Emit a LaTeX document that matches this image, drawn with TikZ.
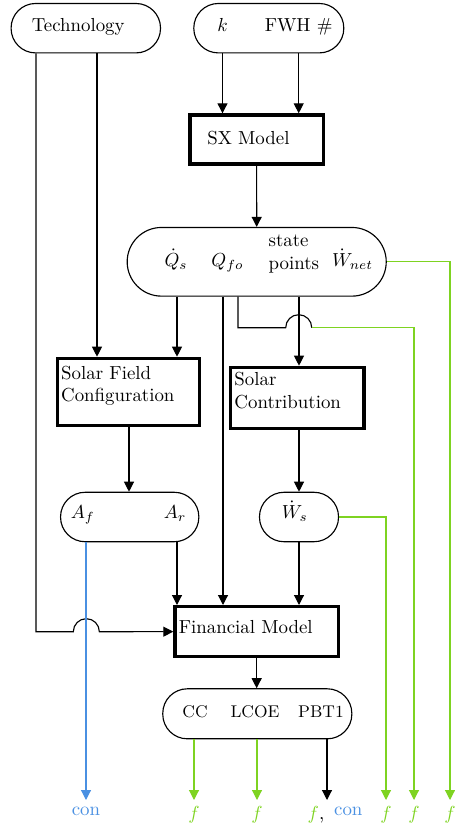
\documentclass[tikz,border=0pt]{standalone}
\usepackage{amsmath}
\usepackage{xcolor}
\usetikzlibrary{positioning, arrows.meta}
\definecolor{fgreen}{RGB}{126,211,33}
\definecolor{conblue}{RGB}{74,144,226}

\begin{document}
\begin{tikzpicture}[x=0.53pt, y=-0.53pt, line width=0.6pt,
  pill/.style={draw, rounded corners=13pt, minimum height=26.2pt, inner sep=0pt},
  box/.style={draw, line width=1.8pt, anchor=north west, align=left, inner xsep=2pt, inner ysep=2.5pt},
  lbl/.style={anchor=base, inner sep=0pt},
  arr/.style={-{Triangle[length=5.3pt, width=5.3pt]}},
  garr/.style={arr, color=fgreen},
  barr/.style={arr, color=conblue}]
  \useasboundingbox (0,0) rectangle (454,832);

  % inputs
  \node[pill, minimum width=79.2pt] (tech) at (85.8,28.2) {};
  \node[lbl] (techtxt) at (78.2,32) {Technology};
  \node[pill, minimum width=79.5pt] (kfwh) at (268.8,28.2) {};
  \node[lbl] (k) at (222.5,32) {$k$};
  \node[lbl] (fwh) at (298.7,32) {FWH \#};

  % models and their outputs
  \node[box, inner xsep=9.15pt, text width=52.35pt, text height=13.4pt, text depth=7.57pt] (sx) at (188.3,113.3) {SX Model};
  \node[pill, minimum width=137.3pt, minimum height=36.4pt, rounded corners=18.2pt] (state) at (256.7,261.8) {};
  \node[lbl] (qs) at (176,266.7) {$\dot{Q}_s$};
  \node[lbl] (qfo) at (227.5,266.7) {$Q_{fo}$};
  \node[anchor=west, inner sep=0pt, align=left] (sp) at (268,254) {state\\points};
  \node[lbl] (wnet) at (352.5,266.7) {$\dot{W}_{net}$};

  \node[box, text width=71.2pt, text height=8.58pt, text depth=22.04pt] (sfc) at (55.7,356.7) {Solar Field\\Configuration};
  \node[box, text width=66.65pt, text height=7.2pt, text depth=20.08pt] (sc) at (229,365.7) {Solar\\Contribution};

  \node[pill, minimum width=73.3pt] (area) at (129.7,517) {};
  \node[lbl] (af) at (82.8,518.3) {$A_f$};
  \node[lbl] (ar) at (175,518.3) {$A_r$};
  \node[pill, minimum width=41.9pt] (ws) at (299,517) {};
  \node[lbl] (wsol) at (294.7,518.3) {$\dot{W}_s$};

  \node[box, text width=82.55pt, text height=11.6pt, text depth=9.85pt] (fm) at (173.3,605) {Financial Model};
  \node[pill, minimum width=100.2pt, minimum height=26.5pt] (out) at (257.3,713.8) {};
  \node[lbl, font=\small] (cc) at (195,717.3) {CC};
  \node[lbl, font=\small] (lcoe) at (255,717.3) {LCOE};
  \node[lbl, font=\small] (pbt) at (321,717.3) {PBT1};

  % connectors
  \draw[arr] (tech.south -| 97,0) -- (97,0 |- sfc.north);
  \draw[arr] (tech.south -| 36,0) |- (73.3,631.7) arc[start angle=180, end angle=0, radius=6.9pt] -- (fm.west);
  \draw[arr] (kfwh.south -| k) -- (k |- sx.north);
  \draw[arr] (kfwh.south -| fwh) -- (fwh |- sx.north);
  \draw[arr] (sx.south) -- (state.north);
  \draw[arr] (state.south -| 177,0) -- (177,0 |- sfc.north);
  \draw[arr] (state.south -| 223,0) -- (223,0 |- fm.north);
  \draw (state.south -| 238,0) |- (285.7,327.7) arc[start angle=180, end angle=0, radius=6.9pt] coordinate (hop);
  \draw[garr] (hop) -| (414,800) node[below] (f5) {$f$};
  \draw[arr] (state.south -| 299,0) -- (299,0 |- sc.north);
  \draw[garr] (state.east) -| (450,800) node[below] (f6) {$f$};
  \draw[arr] (sfc.south -| 129,0) -- (129,0 |- area.north);
  \draw[arr] (sc.south -| ws) -- (ws.north);
  \draw[barr] (area.south -| 86,0) -- (86,800) node[below] (con1) {con};
  \draw[arr] (area.south -| 177,0) -- (177,0 |- fm.north);
  \draw[arr] (ws.south) -- (ws.south |- fm.north);
  \draw[garr] (ws.east) -| (386,800) node[below] (f4) {$f$};
  \draw[arr] (fm.south) -- (fm.south |- out.north);
  \draw[garr] (out.south -| 194,0) -- (194,800) node[below] (f1) {$f$};
  \draw[garr] (out.south -| 257,0) -- (257,800) node[below] (f2) {$f$};
  \draw[arr] (out.south -| 327,0) -- (327,800) coordinate (pbtend);
  \node[anchor=north] (f3) at (316,800) {\textcolor{fgreen}{$f$},};
  \node[anchor=north, text=conblue] (con2) at (348.3,800) {con};
\end{tikzpicture}
\end{document}
